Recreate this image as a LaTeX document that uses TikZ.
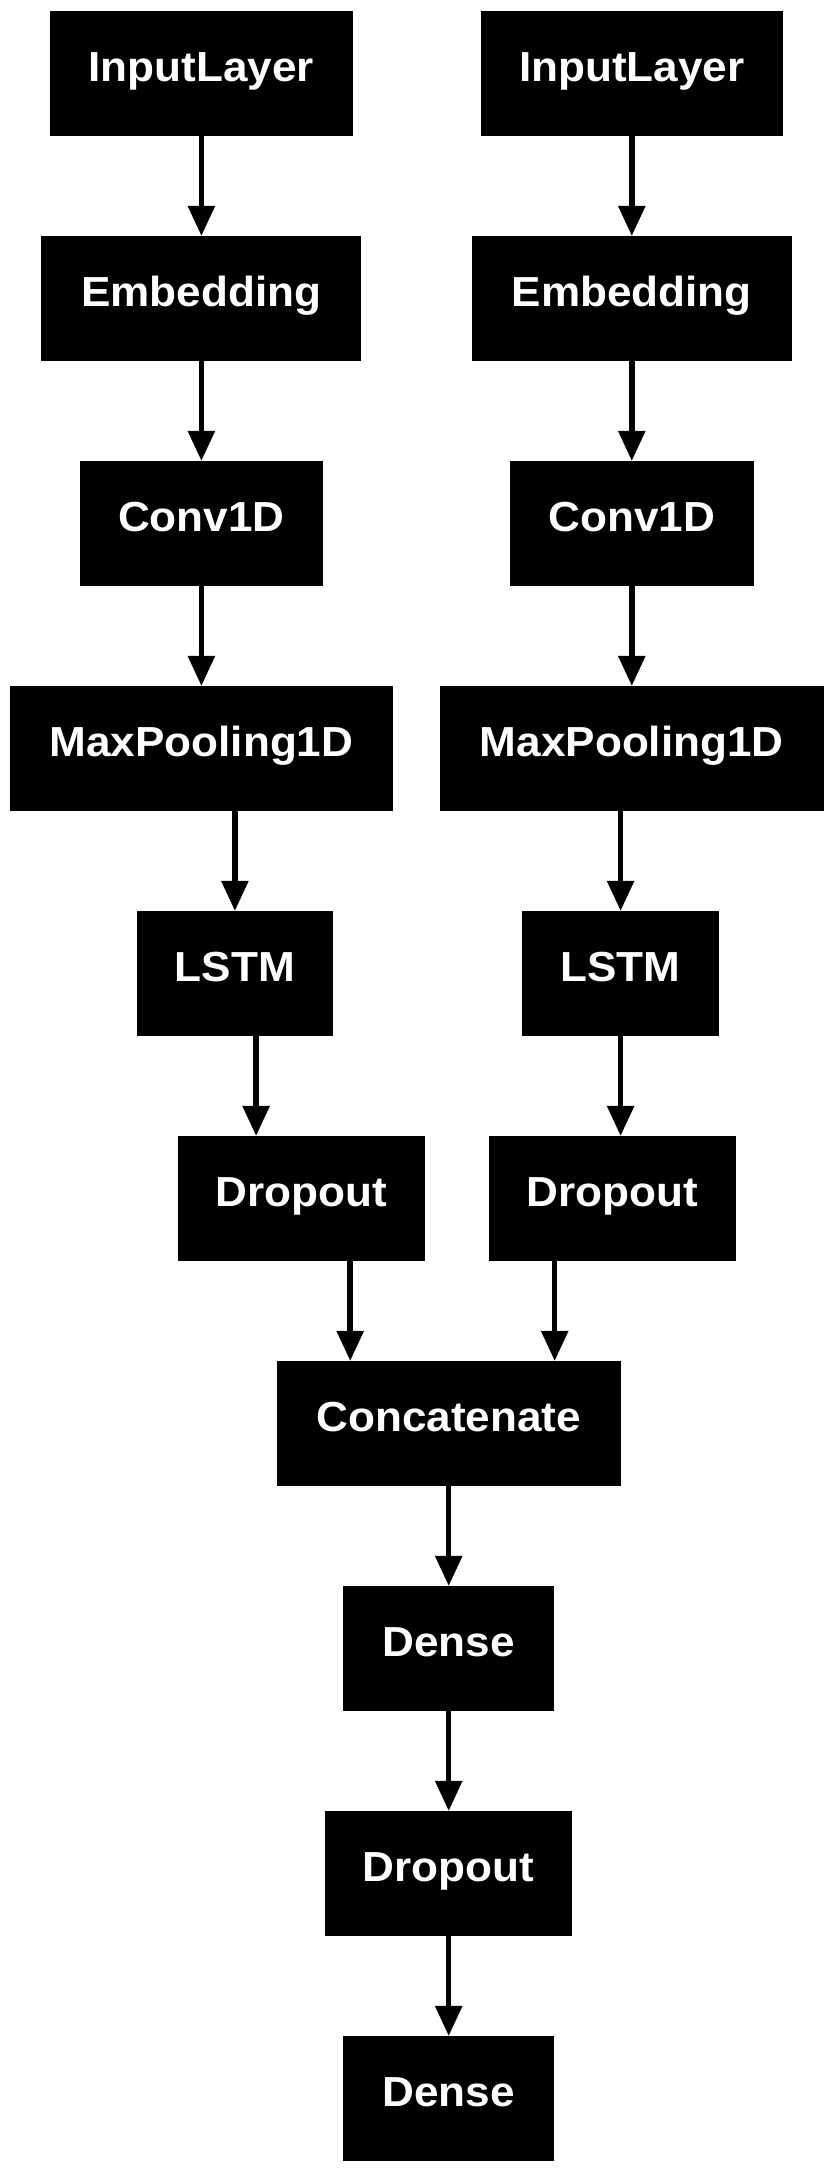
\documentclass[tikz,border=0pt]{standalone}
\usepackage{fontspec}
\setsansfont{Liberation Sans}[FakeStretch=1.05]
\usetikzlibrary{arrows.meta}

\tikzset{
	layer/.style={rectangle, fill=black, text=white,
		inner xsep=0pt, inner ysep=0pt,
		minimum height=124.7pt, text height=30pt, text depth=14pt,
		font=\sffamily\bfseries\fontsize{42}{42}\selectfont},
	flow/.style={line width=5.5pt, -{Triangle[length=30pt, width=26pt]}},
}

\begin{document}
\begin{tikzpicture}[x=1pt, y=-1pt]
	\def \pitch {225}
	\def \rowzero {73.5}
	\def \colA {201.4}
	\def \colB {631.8}
	\def \colC {448.7}

	\useasboundingbox (0,0) rectangle (833,2172);

	% first branch
	\node[layer, minimum width=302.4pt] (inputA) at (\colA, {\rowzero + \pitch*0})
		{InputLayer};
	\node[layer, minimum width=319.9pt] (embedA) at (\colA, {\rowzero + \pitch*1})
		{Embedding};
	\node[layer, minimum width=243.5pt] (convA)  at (\colA, {\rowzero + \pitch*2})
		{Conv1D};
	\node[layer, minimum width=383.6pt] (poolA)  at (\colA, {\rowzero + \pitch*3})
		{MaxPooling1D};
	\node[layer, minimum width=196.6pt] (lstmA)  at (234.9, {\rowzero + \pitch*4})
		{LSTM};
	\node[layer, minimum width=247.1pt] (dropA)  at (301.6, {\rowzero + \pitch*5})
		{Dropout};

	% second branch
	\node[layer, minimum width=302.4pt] (inputB) at (\colB, {\rowzero + \pitch*0})
		{InputLayer};
	\node[layer, minimum width=319.9pt] (embedB) at (\colB, {\rowzero + \pitch*1})
		{Embedding};
	\node[layer, minimum width=243.5pt] (convB)  at (\colB, {\rowzero + \pitch*2})
		{Conv1D};
	\node[layer, minimum width=383.6pt] (poolB)  at (\colB, {\rowzero + \pitch*3})
		{MaxPooling1D};
	\node[layer, minimum width=196.6pt] (lstmB)  at (620.6, {\rowzero + \pitch*4})
		{LSTM};
	\node[layer, minimum width=247.1pt] (dropB)  at (612.4, {\rowzero + \pitch*5})
		{Dropout};

	% merged part
	\node[layer, minimum width=344.3pt] (concat) at (\colC, {\rowzero + \pitch*6})
		{Concatenate};
	\node[layer, minimum width=210.9pt] (denseA) at (\colC, {\rowzero + \pitch*7})
		{Dense};
	\node[layer, minimum width=247.1pt] (dropC)  at (\colC, {\rowzero + \pitch*8})
		{Dropout};
	\node[layer, minimum width=210.9pt] (denseB) at (\colC, {\rowzero + \pitch*9})
		{Dense};

	\draw[flow] (inputA.south) -- (inputA.south |- embedA.north);
	\draw[flow] (embedA.south) -- (embedA.south |- convA.north);
	\draw[flow] (convA.south) -- (convA.south |- poolA.north);
	\draw[flow] (poolA.south -| lstmA) -- (lstmA.north);
	\draw[flow] ([xshift=21.2pt]lstmA.south) -- ([xshift=21.2pt]lstmA.south |- dropA.north);
	\draw[flow] ([xshift=48.6pt]dropA.south) -- ([xshift=48.6pt]dropA.south |- concat.north);

	\draw[flow] (inputB.south) -- (inputB.south |- embedB.north);
	\draw[flow] (embedB.south) -- (embedB.south |- convB.north);
	\draw[flow] (convB.south) -- (convB.south |- poolB.north);
	\draw[flow] (poolB.south -| lstmB) -- (lstmB.north);
	\draw[flow] (lstmB.south) -- (lstmB.south |- dropB.north);
	\draw[flow] ([xshift=-57.7pt]dropB.south) -- ([xshift=-57.7pt]dropB.south |- concat.north);

	\draw[flow] (concat.south) -- (concat.south |- denseA.north);
	\draw[flow] (denseA.south) -- (denseA.south |- dropC.north);
	\draw[flow] (dropC.south) -- (dropC.south |- denseB.north);
\end{tikzpicture}
\end{document}
